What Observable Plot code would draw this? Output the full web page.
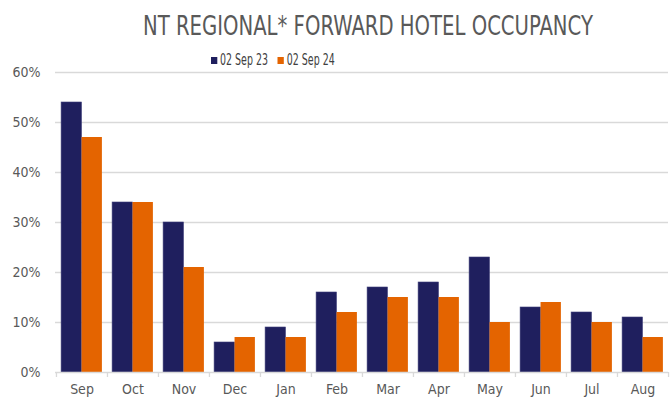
<!DOCTYPE html>
<html>
<head>
<meta charset="utf-8">
<script src="https://cdn.jsdelivr.net/npm/d3@7"></script>
<script src="https://cdn.jsdelivr.net/npm/@observablehq/plot@0.6"></script>
<style>
  body { margin: 0; background: #fff; width: 672px; height: 401px; overflow: hidden; }
  #chart { font-family: "DejaVu Sans Condensed", "Liberation Sans Narrow", sans-serif; }
  .title { position: relative; height: 44px; }
  .title span { position: absolute; left: 143px; top: 11px; font-size: 26px; line-height: 30px; color: #595959; white-space: nowrap; transform-origin: 0 50%; transform: scaleX(0.84); }
  .legend { position: relative; height: 20px; }
  .legend .inner { position: absolute; left: 211px; top: 7px; display: flex; align-items: center; gap: 14px; font-size: 15px; line-height: 18px; color: #404040; white-space: nowrap; transform-origin: 0 50%; transform: scaleX(0.7); }
  .legend span.sw { display: inline-block; width: 9px; height: 7px; margin-right: 4px; }
  .legend .item { display: flex; align-items: center; }
</style>
</head>
<body>
<div id="chart"></div>
<script>
const months = ["Sep","Oct","Nov","Dec","Jan","Feb","Mar","Apr","May","Jun","Jul","Aug"];
const seriesNames = ["02 Sep 23", "02 Sep 24"];
const sep23 = [54, 34, 30, 6, 9, 16, 17, 18, 23, 13, 12, 11];
const sep24 = [47, 34, 21, 7, 7, 12, 15, 15, 10, 14, 10, 7];
const colors = ["#1f1f5e", "#e46400"];
const yTicks = [0, 10, 20, 30, 40, 50, 60];

const data = [];
months.forEach((m, i) => {
  data.push({month: m, series: seriesNames[0], value: sep23[i]});
  data.push({month: m, series: seriesNames[1], value: sep24[i]});
});

const width = 672, height = 337;
const marginLeft = 55, marginRight = 4, marginTop = 8, marginBottom = 29;
const bw = (width - marginLeft - marginRight) / months.length;
const font = '"DejaVu Sans Condensed", "Liberation Sans Narrow", sans-serif';

const root = document.getElementById("chart");
const title = document.createElement("div");
title.className = "title";
const tspan = document.createElement("span");
tspan.textContent = "NT REGIONAL* FORWARD HOTEL OCCUPANCY";
title.appendChild(tspan);
root.appendChild(title);

const legend = document.createElement("div");
legend.className = "legend";
const inner = document.createElement("div");
inner.className = "inner";
seriesNames.forEach((s, i) => {
  const it = document.createElement("div");
  it.className = "item";
  const sw = document.createElement("span");
  sw.className = "sw";
  sw.style.background = colors[i];
  it.appendChild(sw);
  it.appendChild(document.createTextNode(s));
  inner.appendChild(it);
});
legend.appendChild(inner);
root.appendChild(legend);

const plot = Plot.plot({
  width, height, marginLeft, marginRight, marginTop, marginBottom,
  style: {fontFamily: font, fontSize: "14px", color: "#595959", background: "#fff"},
  x: {domain: months, padding: 0, label: null, tickSize: 0, tickPadding: 12},
  y: {domain: [0, 60], ticks: yTicks, label: null, tickFormat: d => d + "%", tickSize: 0, tickPadding: 15},
  color: {domain: seriesNames, range: colors},
  marks: [
    Plot.ruleY(yTicks.filter(d => d > 0), {stroke: "#d9d9d9", strokeWidth: 1.3}),
    Plot.barY(data.filter(d => d.series === seriesNames[0]), {x: "month", y: "value", fill: "series", insetLeft: bw * 0.1, insetRight: bw * 0.5, stroke: "#3d3d78", strokeWidth: 0.6}),
    Plot.barY(data.filter(d => d.series === seriesNames[1]), {x: "month", y: "value", fill: "series", insetLeft: bw * 0.5, insetRight: bw * 0.1}),
    Plot.ruleY([0], {stroke: "#d9d9d9", strokeWidth: 1.3}),
    Plot.ruleX(months, {x: d => d, dx: -bw / 2, y1: 0, y2: 0, insetBottom: -5, stroke: "#d9d9d9", strokeWidth: 1.3}),
    Plot.ruleX(months.slice(-1), {x: d => d, dx: bw / 2, y1: 0, y2: 0, insetBottom: -5, stroke: "#d9d9d9", strokeWidth: 1.3})
  ]
});
root.appendChild(plot);
</script>
</body>
</html>
